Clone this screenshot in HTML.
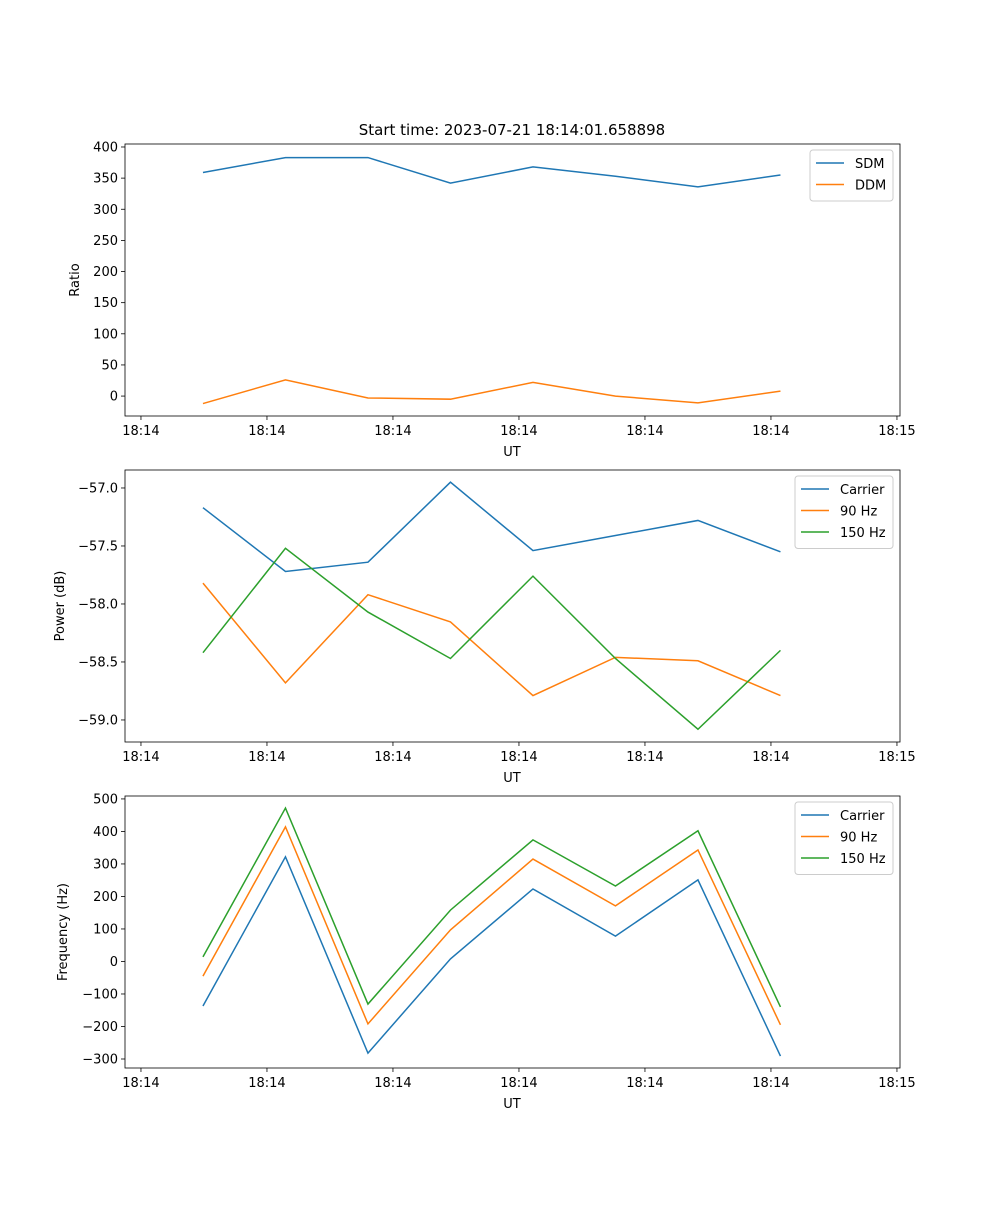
<!DOCTYPE html>
<html><head><meta charset="utf-8"><style>
body{margin:0;background:#fff}
svg text{font-family:"DejaVu Sans","Liberation Sans",sans-serif;font-size:13px;fill:#000}
</style></head><body>
<svg id="fig" width="1000" height="1200" xmlns="http://www.w3.org/2000/svg">
<text x="512" y="135" text-anchor="middle" style="font-size:15px">Start time: 2023-07-21 18:14:01.658898</text>
</svg>
<script>
const xIndex = [0,1,2,3,4,5,6,7];
const xTickVals = [-0.7515,0.7758,2.303,3.8303,5.3576,6.8848,8.4121];
const xTickLabels = ["18:14","18:14","18:14","18:14","18:14","18:14","18:15"];
const sdm = [359,383,383,342,368,353,336,355];
const ddm = [-12,26,-3,-5,22,0,-11,8];
const powCarrier = [-57.17,-57.72,-57.64,-56.95,-57.54,-57.41,-57.28,-57.55];
const pow90 = [-57.82,-58.68,-57.92,-58.155,-58.79,-58.46,-58.49,-58.79];
const pow150 = [-58.42,-57.52,-58.07,-58.47,-57.76,-58.47,-59.08,-58.40];
const freqCarrier = [-137,322,-282,8,223,78,251,-291];
const freq90 = [-45,414,-192,97,315,171,343,-195];
const freq150 = [14,472,-131,158,374,232,402,-140];
const ratioTicks = [0,50,100,150,200,250,300,350,400];
const powTicks = [-59.0,-58.5,-58.0,-57.5,-57.0];
const freqTicks = [-300,-200,-100,0,100,200,300,400,500];
const C = ['#1f77b4','#ff7f0e','#2ca02c'];
const NS='http://www.w3.org/2000/svg';
const svg=document.getElementById('fig');
function mk(t,a,p){const e=document.createElementNS(NS,t);for(const k in a)e.setAttribute(k,a[k]);(p||svg).appendChild(e);return e;}
const L=125,R=900;
function xs(v){return L+(v+0.945)/(9.394)*(R-L);}
function panel(id,top,bot,ymin,ymax,yticks,fmt,ylabel,ylx,series,names,legW){
  const g=mk('g',{});
  
  
  const ys=v=>bot-(v-ymin)/(ymax-ymin)*(bot-top);
  xTickVals.forEach((v,i)=>{const x=xs(v);mk('line',{x1:x,x2:x,y1:bot,y2:bot+4,stroke:'#000','stroke-width':0.8},g);
    const t=mk('text',{x:x,y:bot+19,'text-anchor':'middle'},g);t.textContent=xTickLabels[i];
    
    });
  yticks.forEach(v=>{const y=ys(v);mk('line',{x1:L-4,x2:L,y1:y,y2:y,stroke:'#000','stroke-width':0.8},g);
    const t=mk('text',{x:L-7,y:y+4.5,'text-anchor':'end'},g);t.textContent=fmt(v).replace('-','\u2212');
    
    });
  const xl=mk('text',{x:512,y:bot+40,'text-anchor':'middle'},g);xl.textContent='UT';
  
  
  const yl=mk('text',{x:ylx,y:(top+bot)/2,'text-anchor':'middle',transform:`rotate(-90 ${ylx} ${(top+bot)/2})`},g);yl.textContent=ylabel;
  
  
  series.forEach((s,k)=>{const p=mk('polyline',{points:s.map((v,i)=>xs(xIndex[i])+','+ys(v)).join(' '),fill:'none',stroke:C[k],'stroke-width':1.5},g);
    
    });
  mk('rect',{x:L,y:top,width:R-L,height:bot-top,fill:'none',stroke:'#000','stroke-width':0.8},g);
  const lx=R-7-legW,ly=top+6;
  const lg=mk('g',{},g);
  
  
  mk('rect',{x:lx,y:ly,width:legW,height:8+names.length*21.5,rx:3,fill:'#fff',stroke:'#ccc','stroke-width':1},lg);
  names.forEach((n,k)=>{const y=ly+13+k*21.5;mk('line',{x1:lx+6,x2:lx+34,y1:y,y2:y,stroke:C[k],'stroke-width':1.5},lg);
    const t=mk('text',{x:lx+45,y:y+5},lg);t.textContent=n;
    
    });
}
panel('ratio',144,416,-32,404.8,ratioTicks,v=>String(v),'Ratio',79,[sdm,ddm],['SDM','DDM'],83);
panel('power',470,742,-59.19,-56.845,powTicks,v=>v.toFixed(1),'Power (dB)',64,[powCarrier,pow90,pow150],['Carrier','90 Hz','150 Hz'],98);
panel('frequency',796,1068,-327.7,509,freqTicks,v=>String(v),'Frequency (Hz)',67,[freqCarrier,freq90,freq150],['Carrier','90 Hz','150 Hz'],98);
</script>
</body></html>
